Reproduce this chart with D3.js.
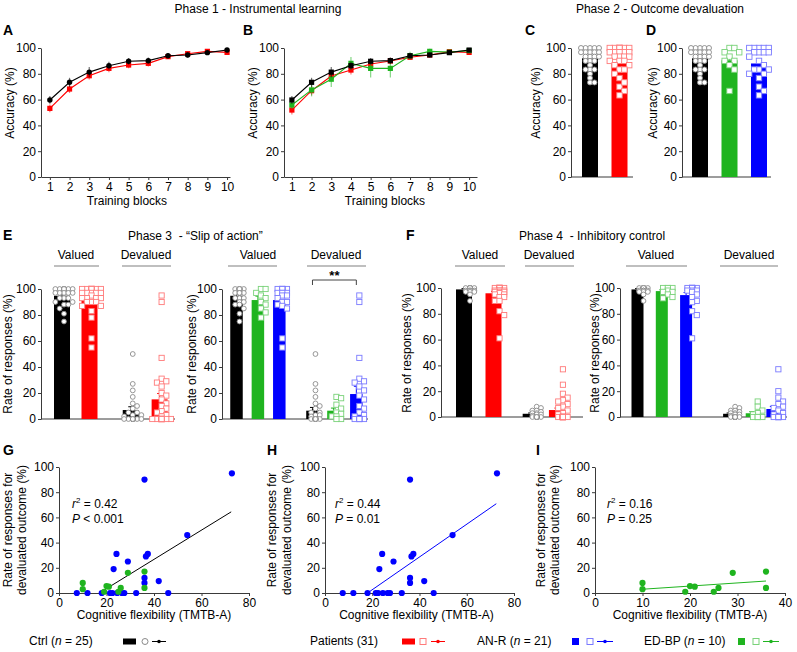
<!DOCTYPE html>
<html><head><meta charset="utf-8">
<script src="https://cdn.jsdelivr.net/npm/d3@7"></script>
<style>body{margin:0;background:#fff}svg{display:block}text{font-family:"Liberation Sans",Arial,Helvetica,sans-serif;white-space:pre}</style>
</head><body><svg id="c" width="797" height="652"></svg>
<script>
// ---------------- DATA ----------------
const blocks = [1,2,3,4,5,6,7,8,9,10];
const yTicks = [0,20,40,60,80,100];
// Panel A / B (accuracy per training block)
const accCtrl = [59.7,73.4,81.3,86.3,89.7,90.2,94.0,94.6,96.4,98.4];
const accCtrlSem = [3,3.5,4,3,2.5,2.5,2,2,1,1];
const accPat = [53.2,68.2,78.5,84.2,86.8,88.1,93.3,95.6,97.4,96.6];
const accPatSem = [3,3,3,3,2.5,2.5,1.5,1.5,1,1];
const accRedB = [51.9,66.9,78.3,82.9,87.6,89.9,92.8,94.6,97.2,96.6];
const accRedBSem = [3.5,3.5,3.5,3.5,2.5,2.5,2,1.5,1,1];
const accEdbp = [55.8,67.5,75.8,88.1,84.2,84.2,94.0,97.4,96.8,98.0];
const accEdbpSem = [3,5,6,5,7,7,3,2,1,1];
// Panel C / D (outcome devaluation accuracy)
const cMeans = [92, 89];
const cSem = [2, 2];
const dMeans = [92, 90.5, 88];
const dSem = [2, 3, 2.5];
const ctrlAcc = [100,100,100,100,100,96.7,96.7,96.7,96.7,96.7,93.3,93.3,93.3,93.3,90,90,90,86.7,83.3,83.3,83.3,80,76.7,73.3,73.3];
const patAcc = [100,100,100,100,100,100,100,100,96.7,96.7,96.7,96.7,96.7,96.7,93.3,93.3,93.3,93.3,90,90,90,86.7,86.7,83.3,83.3,80,76.7,70,66.7,63.3,73.3];
const edbpAcc = [100,100,96.7,96.7,93.3,90,90,86.7,83.3,66.7];
const anrAcc = [100,100,100,100,100,96.7,96.7,96.7,96.7,93.3,90,86.7,83.3,83.3,83.3,80,80,76.7,70,66.7,63.3];
// Panel E (slip of action)
const eMeansLeft = [94.8, 91.5, 6.9, 15.1];
const eSemLeft = [1.5, 2, 2.5, 4.5];
const eMeansRight = [94.8, 91.5, 91.5, 6.4, 6.4, 19.2];
const eSemRight = [1.5, 3, 2.5, 2.5, 2, 6];
const ctrlSlipVal = [100,100,100,100,100,100,100,100,100,100,97,97,97,97,97,93,93,93,90,90,88,88,85,81,75];
const patSlipVal = [100,100,100,100,100,100,100,100,100,100,100,100,97,97,97,97,97,95,93,93,93,93,90,90,90,87,87,83,78,62,55];
const edbpSlipVal = [100,100,97,95,93,90,88,85,82,78];
const anrSlipVal = [100,100,100,100,100,100,100,97,97,97,97,95,95,93,90,90,88,87,85,62,55];
const ctrlSlipDev = [50,27,22,17,12,10,8,5,5,3,3,2,0,0,0,0,0,0,0,0,0,0,0,0,0];
const patSlipDev = [95,90,47,31,29,28,25,20,18,15,12,10,8,6,5,3,2,0,0,0,0,0,0,0,0,0,0,0,0,0,0];
const edbpSlipDev = [17,16,11,8,5,4,2,2,0,0];
const anrSlipDev = [95,90,47,31,29,28,25,22,18,15,10,8,5,3,2,0,0,0,0,0,0];
// Panel F (inhibitory control)
const fMeansLeft = [98.9, 95.9, 2.5, 5.4];
const fSemLeft = [0.6, 1.5, 0.6, 1.5];
const fMeansRight = [98.9, 97.6, 94.5, 2.5, 2.9, 6.2];
const fSemRight = [0.6, 1, 2, 0.6, 1.2, 2];
const ctrlInhVal = [100,100,100,100,100,100,100,100,100,100,100,100,100,100,100,98,98,98,98,98,97,97,97,95,90];
const patInhVal = [100,100,100,100,100,100,100,100,100,100,100,100,100,100,98,98,98,98,97,97,97,96,95,95,93,93,90,90,82,79,61];
const edbpInhVal = [100,100,100,100,98,97,97,95,93,92];
const anrInhVal = [100,100,100,100,100,100,100,100,100,100,98,98,98,97,95,93,90,89,82,79,61];
const ctrlInhDev = [8,7,5,5,4,3,3,2,2,1,0,0,0,0,0,0,0,0,0,0,0,0,0,0,0];
const patInhDev = [37,25,18,15,13,12,10,8,7,5,3,2,0,0,0,0,0,0,0,0,0,0,0,0,0,0,0,0,0,0,0];
const edbpInhDev = [12,8,5,3,2,0,0,0,0,0];
const anrInhDev = [37,20,15,12,10,8,7,5,3,2,0,0,0,0,0,0,0,0,0,0,0];
// Panels G / H / I (correlations)
const anrTmt = [72.8,36,54,36.6,37.4,24.2,29,23,36,36,42,7.5,12,18,21.5,22.5,24.5,26.5,27.5,32.5,46];
const anrRate = [95,90,46,29,31,31,25,19,12,8,9.5,0,0,0,0,0,0,0,0,0,0];
const edbpTmt = [10,10,19,20,21,25,26,29,36,36];
const edbpRate = [8,3,1,5.5,5,1,4,16,17,4];
const fitSlope = [1.16, 1.30, 0.25];
const fitIntercept = [-19.7, -23.4, 0.5];
const fitRange = [[17,72.5],[18,72.5],[10,36]];
const statR2 = ["0.42","0.44","0.16"];
const statP = ["< 0.001","= 0.01","= 0.25"];

// ---------------- STYLE ----------------
const FONT = '"Liberation Sans", Arial, Helvetica, sans-serif';
const AX = '#3a3a3a';
const COL = {ctrl:'#000000', pat:'#ff0000', anr:'#0000ff', edbp:'#1fb41f'};
const LIGHT = {ctrl:'#8a8a8a', pat:'#ff7a7a', anr:'#7a7aff', edbp:'#79d279'};
const svg = d3.select('#c');

function txt(x,y,s,o={}){
  const t = svg.append('text').attr('x',x).attr('y',y).attr('font-size',o.size||12)
    .attr('font-family',FONT).attr('fill','#000').text(s);
  if(o.anchor) t.attr('text-anchor',o.anchor);
  if(o.bold) t.attr('font-weight','bold');
  return t;
}
function vtxt(cx,cy,s){
  svg.append('text').attr('transform',`translate(${cx},${cy}) rotate(-90)`)
    .attr('text-anchor','middle').attr('dominant-baseline','central')
    .attr('font-size',12).attr('font-family',FONT).text(s);
}
function styleAxis(sel){
  sel.attr('font-family',FONT).attr('font-size',12);
  sel.selectAll('text').attr('fill','#000');
  sel.selectAll('line,path').attr('stroke',AX).attr('stroke-width',1);
}
function yAxis(x,y){
  svg.append('g').attr('transform',`translate(${x},0)`)
    .call(d3.axisLeft(y).tickValues(yTicks).tickSize(3).tickSizeOuter(0).tickPadding(2))
    .call(styleAxis);
}
function marker(g,shape,cx,cy,size,fill,stroke,sw){
  if(shape==='circle'){
    g.append('circle').attr('cx',cx).attr('cy',cy).attr('r',size/2).attr('fill',fill).attr('stroke',stroke).attr('stroke-width',sw);
  } else {
    g.append('rect').attr('x',cx-size/2).attr('y',cy-size/2).attr('width',size).attr('height',size).attr('fill',fill).attr('stroke',stroke).attr('stroke-width',sw);
  }
}
function swarm(py, size, maxOff){
  const step = size*0.9, placed=[], res=[];
  const cands=[0];
  for(let k=1;k*step<=maxOff;k++){cands.push(k*step,-k*step);}
  py.forEach((p,i)=>{
    let best=0,bestD=-1;
    for(const c of cands){
      let mind=Infinity;
      placed.forEach(q=>{const d=Math.hypot(q[0]-c,q[1]-p); if(d<mind) mind=d;});
      if(mind>=size*0.85){best=c;break;}
      if(mind>bestD){bestD=mind;best=c;}
    }
    placed.push([best,p]); res.push(best);
  });
  return res;
}

// ---------------- LINE PANELS (A, B) ----------------
function linePanel(P){
  const x = d3.scaleLinear().domain(P.xDomain).range(P.xRange);
  const y = d3.scaleLinear().domain([0,100]).range([177,48]);
  yAxis(P.xRange[0], y);
  svg.append('g').attr('transform','translate(0,177)')
    .call(d3.axisBottom(x).tickValues(blocks).tickSize(3).tickSizeOuter(0).tickPadding(2))
    .call(styleAxis);
  P.series.forEach(s=>{
    const g = svg.append('g');
    blocks.forEach((b,i)=>{
      g.append('line').attr('x1',x(b)).attr('x2',x(b)).attr('y1',y(s.v[i]-s.e[i])).attr('y2',y(s.v[i]+s.e[i]))
        .attr('stroke',s.c).attr('stroke-opacity',0.55).attr('stroke-width',1.2);
    });
    g.append('path').datum(s.v).attr('fill','none').attr('stroke',s.c).attr('stroke-width',1.1)
      .attr('d', d3.line().x((d,i)=>x(blocks[i])).y(d=>y(d)));
    blocks.forEach((b,i)=>marker(g,s.shape,x(b),y(s.v[i]),s.shape==='circle'?5.4:5.2,s.c,'none',0));
  });
}
linePanel({xDomain:[0.55,10.15], xRange:[41,230], series:[
  {v:accPat,e:accPatSem,c:COL.pat,shape:'square'},
  {v:accCtrl,e:accCtrlSem,c:COL.ctrl,shape:'circle'}]});
linePanel({xDomain:[0.6,10.4], xRange:[284,477], series:[
  {v:accRedB,e:accRedBSem,c:COL.pat,shape:'square'},
  {v:accEdbp,e:accEdbpSem,c:COL.edbp,shape:'square'},
  {v:accCtrl,e:accCtrlSem,c:COL.ctrl,shape:'square'}]});

// ---------------- BAR PANELS ----------------
function barPanel(P){
  const y = d3.scaleLinear().domain([0,100]).range([P.y0,P.y100]);
  const x = d3.scaleLinear().domain([0,1]).range([P.c0,P.c0+P.step]);
  yAxis(P.axisX,y);
  svg.append('line').attr('x1',P.axisX).attr('x2',P.axisEnd).attr('y1',P.y0).attr('y2',P.y0).attr('stroke',AX).attr('stroke-width',1);
  P.groups.forEach(gr=>{
    const cx = x(gr.slot), g = svg.append('g');
    g.append('line').attr('x1',cx).attr('x2',cx).attr('y1',y(gr.mean)).attr('y2',y(gr.mean+gr.sem)).attr('stroke',COL[gr.k]).attr('stroke-width',1);
    g.append('line').attr('x1',cx-2.5).attr('x2',cx+2.5).attr('y1',y(gr.mean+gr.sem)).attr('y2',y(gr.mean+gr.sem)).attr('stroke',COL[gr.k]).attr('stroke-width',1);
    g.append('rect').attr('x',cx-P.barW/2).attr('width',P.barW).attr('y',y(gr.mean)).attr('height',P.y0-y(gr.mean)).attr('fill',COL[gr.k]);
    const shape = gr.k==='ctrl'?'circle':'square';
    const size = shape==='circle'?P.ms:P.ms+0.4;
    const py = gr.pts.map(v=>y(v));
    const off = swarm(py,size,P.maxOff);
    py.forEach((p,i)=>marker(g,shape,cx+P.pOff+off[i],p,size,'#fff',LIGHT[gr.k],0.9));
  });
  return {x,y};
}
// C
barPanel({axisX:571,axisEnd:633,y0:177,y100:48,c0:590,step:29.5,barW:16,ms:5,maxOff:14,pOff:0,groups:[
  {slot:0,k:'ctrl',mean:cMeans[0],sem:cSem[0],pts:ctrlAcc},
  {slot:1,k:'pat',mean:cMeans[1],sem:cSem[1],pts:patAcc}]});
// D
barPanel({axisX:682,axisEnd:771,y0:177,y100:48,c0:700,step:29.5,barW:16,ms:5,maxOff:12,pOff:0,groups:[
  {slot:0,k:'ctrl',mean:dMeans[0],sem:dSem[0],pts:ctrlAcc},
  {slot:1,k:'edbp',mean:dMeans[1],sem:dSem[1],pts:edbpAcc},
  {slot:2,k:'anr',mean:dMeans[2],sem:dSem[2],pts:anrAcc}]});
// E left
barPanel({axisX:41,axisEnd:175,y0:419,y100:289,c0:62,step:27.5,barW:16,ms:4.8,maxOff:10,pOff:2,groups:[
  {slot:0,k:'ctrl',mean:eMeansLeft[0],sem:eSemLeft[0],pts:ctrlSlipVal},
  {slot:1,k:'pat',mean:eMeansLeft[1],sem:eSemLeft[1],pts:patSlipVal},
  {slot:2.5,k:'ctrl',mean:eMeansLeft[2],sem:eSemLeft[2],pts:ctrlSlipDev},
  {slot:3.55,k:'pat',mean:eMeansLeft[3],sem:eSemLeft[3],pts:patSlipDev}]});
// E right
const eR = barPanel({axisX:222,axisEnd:368,y0:419,y100:289,c0:236.5,step:21.4,barW:12.5,ms:4.8,maxOff:8,pOff:3,groups:[
  {slot:0,k:'ctrl',mean:eMeansRight[0],sem:eSemRight[0],pts:ctrlSlipVal},
  {slot:1,k:'edbp',mean:eMeansRight[1],sem:eSemRight[1],pts:edbpSlipVal},
  {slot:2,k:'anr',mean:eMeansRight[2],sem:eSemRight[2],pts:anrSlipVal},
  {slot:3.55,k:'ctrl',mean:eMeansRight[3],sem:eSemRight[3],pts:ctrlSlipDev},
  {slot:4.53,k:'edbp',mean:eMeansRight[4],sem:eSemRight[4],pts:edbpSlipDev},
  {slot:5.6,k:'anr',mean:eMeansRight[5],sem:eSemRight[5],pts:anrSlipDev}]});
// F left
barPanel({axisX:441,axisEnd:583,y0:417,y100:288,c0:464,step:29.5,barW:16,ms:4.8,maxOff:8,pOff:6,groups:[
  {slot:0,k:'ctrl',mean:fMeansLeft[0],sem:fSemLeft[0],pts:ctrlInhVal},
  {slot:1,k:'pat',mean:fMeansLeft[1],sem:fSemLeft[1],pts:patInhVal},
  {slot:2.26,k:'ctrl',mean:fMeansLeft[2],sem:fSemLeft[2],pts:ctrlInhDev},
  {slot:3.15,k:'pat',mean:fMeansLeft[3],sem:fSemLeft[3],pts:patInhDev}]});
// F right
barPanel({axisX:620,axisEnd:787,y0:417,y100:288,c0:637.5,step:24.3,barW:12,ms:4.8,maxOff:7,pOff:6,groups:[
  {slot:0,k:'ctrl',mean:fMeansRight[0],sem:fSemRight[0],pts:ctrlInhVal},
  {slot:1,k:'edbp',mean:fMeansRight[1],sem:fSemRight[1],pts:edbpInhVal},
  {slot:2,k:'anr',mean:fMeansRight[2],sem:fSemRight[2],pts:anrInhVal},
  {slot:3.77,k:'ctrl',mean:fMeansRight[3],sem:fSemRight[3],pts:ctrlInhDev},
  {slot:4.7,k:'edbp',mean:fMeansRight[4],sem:fSemRight[4],pts:edbpInhDev},
  {slot:5.55,k:'anr',mean:fMeansRight[5],sem:fSemRight[5],pts:anrInhDev}]});

// significance bracket (E right, devalued ctrl vs AN-R)
{
  const xa = eR.x(3.55), xb = eR.x(5.6);
  svg.append('path').attr('d',`M${xa},285V280H${xb}V285`).attr('fill','none').attr('stroke','#444').attr('stroke-width',1);
  txt((xa+xb)/2,280,'**',{anchor:'middle',bold:true,size:13});
}

// ---------------- SCATTER PANELS (G, H, I) ----------------
function scatterPanel(P){
  const x = d3.scaleLinear().domain(P.xDomain).range(P.xRange);
  const y = d3.scaleLinear().domain([0,100]).range([593,467]);
  yAxis(P.xRange[0],y);
  svg.append('g').attr('transform','translate(0,593)')
    .call(d3.axisBottom(x).tickValues(P.xTicks).tickSize(3).tickSizeOuter(0).tickPadding(2))
    .call(styleAxis);
  const f = P.fit;
  svg.append('line').attr('x1',x(fitRange[f][0])).attr('x2',x(fitRange[f][1]))
    .attr('y1',y(fitSlope[f]*fitRange[f][0]+fitIntercept[f])).attr('y2',y(fitSlope[f]*fitRange[f][1]+fitIntercept[f]))
    .attr('stroke',P.lineColor).attr('stroke-width',1);
  P.sets.forEach(s=>{
    s.xs.forEach((v,i)=>svg.append('circle').attr('cx',x(v)).attr('cy',y(s.ys[i])).attr('r',3.1).attr('fill',s.c));
  });
  const sx = P.xRange[0]+P.statDx;
  const t1 = svg.append('text').attr('x',sx).attr('y',508).attr('font-size',12).attr('font-family',FONT);
  t1.append('tspan').attr('font-style','italic').text('r');
  t1.append('tspan').attr('font-size',8).attr('dy',-5).text('2');
  t1.append('tspan').attr('dy',5).text(' = '+statR2[f]);
  const t2 = svg.append('text').attr('x',sx).attr('y',523).attr('font-size',12).attr('font-family',FONT);
  t2.append('tspan').attr('font-style','italic').text('P');
  t2.append('tspan').text(' '+statP[f]);
  txt((P.xRange[0]+P.xRange[1])/2+P.labDx,619,'Cognitive flexibility (TMTB-A)',{anchor:'middle'});
}
scatterPanel({xDomain:[0,80],xRange:[59,249],xTicks:[0,20,40,60,80],fit:0,lineColor:'#000',statDx:13,labDx:0,
  sets:[{xs:anrTmt,ys:anrRate,c:COL.anr},{xs:edbpTmt,ys:edbpRate,c:COL.edbp}]});
scatterPanel({xDomain:[0,80],xRange:[325,514],xTicks:[0,20,40,60,80],fit:1,lineColor:COL.anr,statDx:10,labDx:-3,
  sets:[{xs:anrTmt,ys:anrRate,c:COL.anr}]});
scatterPanel({xDomain:[0,40],xRange:[595,785],xTicks:[0,10,20,30,40],fit:2,lineColor:COL.edbp,statDx:12,labDx:0,
  sets:[{xs:edbpTmt,ys:edbpRate,c:COL.edbp}]});

// ---------------- TEXT ----------------
txt(258,13,'Phase 1 - Instrumental learning',{anchor:'middle'});
txt(660,13,'Phase 2 - Outcome devaluation',{anchor:'middle'});
txt(3,35,'A',{bold:true,size:14});
txt(243,35,'B',{bold:true,size:14});
txt(525,35,'C',{bold:true,size:14});
txt(646,35,'D',{bold:true,size:14});
txt(3,240,'E',{bold:true,size:14});
txt(406,240,'F',{bold:true,size:14});
txt(3,455,'G',{bold:true,size:14});
txt(267,455,'H',{bold:true,size:14});
txt(536,455,'I',{bold:true,size:14});
vtxt(10,103,'Accuracy (%)'); vtxt(253,103,'Accuracy (%)'); vtxt(536,103,'Accuracy (%)'); vtxt(653,103,'Accuracy (%)');
txt(127,205,'Training blocks',{anchor:'middle'});
txt(385,205,'Training blocks',{anchor:'middle'});
txt(128,240,'Phase 3  - \u201cSlip of action\u201d');
txt(519,240,'Phase 4  - Inhibitory control');
vtxt(8,354,'Rate of responses (%)'); vtxt(192,354,'Rate of responses (%)');
vtxt(407,353,'Rate of responses (%)'); vtxt(595,353,'Rate of responses (%)');
[[76,146,54,99,122,171],[258,336,228,277,307,366],[480,549,455,505,525,574],[656,749,626,687,720,778]].forEach(a=>{
  txt(a[0],259,'Valued',{anchor:'middle'}); txt(a[1],259,'Devalued',{anchor:'middle'});
  svg.append('line').attr('x1',a[2]).attr('x2',a[3]).attr('y1',266).attr('y2',266).attr('stroke','#aaa').attr('stroke-width',1.5);
  svg.append('line').attr('x1',a[4]).attr('x2',a[5]).attr('y1',266).attr('y2',266).attr('stroke','#aaa').attr('stroke-width',1.5);
});
[[8,22,530],[272,287,530],[541,555,530]].forEach(a=>{
  vtxt(a[0],a[2],'Rate of responses for'); vtxt(a[1],a[2],'devaluated outcome (%)');
});

// ---------------- LEGEND ----------------
function legText(x,label,n){
  const t = svg.append('text').attr('x',x).attr('y',645).attr('font-size',12).attr('font-family',FONT);
  if(n){ t.append('tspan').text(label+' ('); t.append('tspan').attr('font-style','italic').text('n'); t.append('tspan').text(' = '+n+')'); }
  else t.text(label);
}
function legLine(x1,x2,c){
  svg.append('line').attr('x1',x1).attr('x2',x2).attr('y1',641.5).attr('y2',641.5).attr('stroke',c).attr('stroke-width',1);
  svg.append('circle').attr('cx',(x1+x2)/2).attr('cy',641.5).attr('r',1.8).attr('fill',c);
}
legText(29,'Ctrl',25);
svg.append('rect').attr('x',123).attr('y',638.5).attr('width',13).attr('height',6).attr('fill',COL.ctrl);
svg.append('circle').attr('cx',145).attr('cy',641.5).attr('r',3).attr('fill','#fff').attr('stroke',LIGHT.ctrl);
legLine(152,166,COL.ctrl);
legText(310,'Patients (31)');
svg.append('rect').attr('x',402).attr('y',638.5).attr('width',13).attr('height',6).attr('fill',COL.pat);
svg.append('rect').attr('x',420).attr('y',638.5).attr('width',6).attr('height',6).attr('fill','#fff').attr('stroke',LIGHT.pat);
legLine(431,445,COL.pat);
legText(477,'AN-R',21);
svg.append('rect').attr('x',572).attr('y',638).attr('width',7).attr('height',7).attr('fill',COL.anr);
svg.append('rect').attr('x',587).attr('y',638.5).attr('width',6).attr('height',6).attr('fill','#fff').attr('stroke',LIGHT.anr);
legLine(597,613,COL.anr);
legText(644,'ED-BP',10);
svg.append('rect').attr('x',738).attr('y',638).attr('width',7).attr('height',7).attr('fill',COL.edbp);
svg.append('rect').attr('x',753).attr('y',638.5).attr('width',6).attr('height',6).attr('fill','#fff').attr('stroke',LIGHT.edbp);
legLine(763,779,COL.edbp);
</script></body></html>
